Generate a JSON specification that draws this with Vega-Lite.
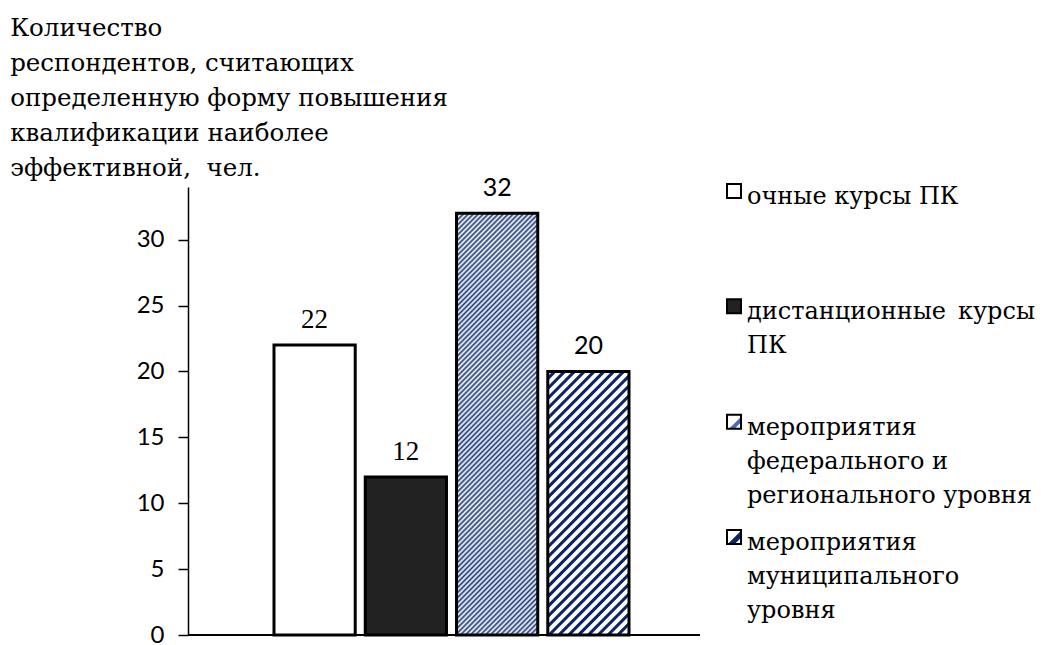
{
  "$schema": "https://vega.github.io/schema/vega-lite/v6.json",
  "background": "white",
  "padding": {"left": 10, "top": 15, "right": 0, "bottom": 0},
  "title": {
    "text": ["Количество", "респондентов, считающих", "определенную форму повышения", "квалификации наиболее", "эффективной,\u00a0 чел."],
    "anchor": "start",
    "frame": "bounds",
    "dx": -126,
    "font": "DejaVu Serif",
    "fontSize": 24.5,
    "fontWeight": "normal",
    "lineHeight": 35,
    "offset": -5,
    "color": "black"
  },
  "config": {"view": {"stroke": null}, "concat": {"spacing": 22}},
  "datasets": {
    "forms": [
      {"form": "очные курсы ПК", "label": "очные курсы ПК", "value": 22},
      {"form": "дистанционные курсы ПК", "label": "дистанционные\u2002курсы\nПК", "value": 12},
      {"form": "мероприятия федерального и регионального уровня", "label": "мероприятия\nфедерального и\nрегионального уровня", "value": 32},
      {"form": "мероприятия муниципального уровня", "label": "мероприятия\nмуниципального\nуровня", "value": 20}
    ]
  },
  "hconcat": [
    {
      "width": 512,
      "height": 448,
      "data": {"name": "forms"},
      "layer": [
        {
          "mark": {"type": "rule", "color": "black", "strokeWidth": 2},
          "encoding": {"y": {"datum": 0, "type": "quantitative"}}
        },
        {
          "mark": {"type": "bar", "stroke": "black", "strokeWidth": 3},
          "encoding": {
            "x": {"field": "form", "type": "nominal", "sort": null, "axis": null,
                  "scale": {"range": [86, 441], "paddingInner": 0.11, "paddingOuter": 0}},
            "y": {"field": "value", "type": "quantitative",
                  "scale": {"domain": [0, 34], "nice": false},
                  "axis": {"values": [0, 5, 10, 15, 20, 25, 30], "title": null, "grid": false,
                           "domainColor": "black", "domainWidth": 1.5, "tickColor": "black", "tickWidth": 1.5,
                           "tickSize": 10, "labelFont": "Lato", "labelFontSize": 24, "labelColor": "black",
                           "labelPadding": 14}},
            "fill": {
              "condition": [
                {"test": "datum.form === 'дистанционные курсы ПК'", "value": "#222222"},
                {"test": "datum.form === 'мероприятия федерального и регионального уровня'",
                 "value": {"gradient": "linear", "x1": 0, "y1": 0, "x2": 0.2239, "y2": 1.151, "stops": [
{"offset":0,"color":"#fff"},{"offset":0.005,"color":"#1d3a78"},{"offset":0.01,"color":"#fff"},{"offset":0.015,"color":"#1d3a78"},{"offset":0.02,"color":"#fff"},{"offset":0.025,"color":"#1d3a78"},{"offset":0.03,"color":"#fff"},{"offset":0.035,"color":"#1d3a78"},{"offset":0.04,"color":"#fff"},{"offset":0.045,"color":"#1d3a78"},
{"offset":0.05,"color":"#fff"},{"offset":0.055,"color":"#1d3a78"},{"offset":0.06,"color":"#fff"},{"offset":0.065,"color":"#1d3a78"},{"offset":0.07,"color":"#fff"},{"offset":0.075,"color":"#1d3a78"},{"offset":0.08,"color":"#fff"},{"offset":0.085,"color":"#1d3a78"},{"offset":0.09,"color":"#fff"},{"offset":0.095,"color":"#1d3a78"},
{"offset":0.1,"color":"#fff"},{"offset":0.105,"color":"#1d3a78"},{"offset":0.11,"color":"#fff"},{"offset":0.115,"color":"#1d3a78"},{"offset":0.12,"color":"#fff"},{"offset":0.125,"color":"#1d3a78"},{"offset":0.13,"color":"#fff"},{"offset":0.135,"color":"#1d3a78"},{"offset":0.14,"color":"#fff"},{"offset":0.145,"color":"#1d3a78"},
{"offset":0.15,"color":"#fff"},{"offset":0.155,"color":"#1d3a78"},{"offset":0.16,"color":"#fff"},{"offset":0.165,"color":"#1d3a78"},{"offset":0.17,"color":"#fff"},{"offset":0.175,"color":"#1d3a78"},{"offset":0.18,"color":"#fff"},{"offset":0.185,"color":"#1d3a78"},{"offset":0.19,"color":"#fff"},{"offset":0.195,"color":"#1d3a78"},
{"offset":0.2,"color":"#fff"},{"offset":0.205,"color":"#1d3a78"},{"offset":0.21,"color":"#fff"},{"offset":0.215,"color":"#1d3a78"},{"offset":0.22,"color":"#fff"},{"offset":0.225,"color":"#1d3a78"},{"offset":0.23,"color":"#fff"},{"offset":0.235,"color":"#1d3a78"},{"offset":0.24,"color":"#fff"},{"offset":0.245,"color":"#1d3a78"},
{"offset":0.25,"color":"#fff"},{"offset":0.255,"color":"#1d3a78"},{"offset":0.26,"color":"#fff"},{"offset":0.265,"color":"#1d3a78"},{"offset":0.27,"color":"#fff"},{"offset":0.275,"color":"#1d3a78"},{"offset":0.28,"color":"#fff"},{"offset":0.285,"color":"#1d3a78"},{"offset":0.29,"color":"#fff"},{"offset":0.295,"color":"#1d3a78"},
{"offset":0.3,"color":"#fff"},{"offset":0.305,"color":"#1d3a78"},{"offset":0.31,"color":"#fff"},{"offset":0.315,"color":"#1d3a78"},{"offset":0.32,"color":"#fff"},{"offset":0.325,"color":"#1d3a78"},{"offset":0.33,"color":"#fff"},{"offset":0.335,"color":"#1d3a78"},{"offset":0.34,"color":"#fff"},{"offset":0.345,"color":"#1d3a78"},
{"offset":0.35,"color":"#fff"},{"offset":0.355,"color":"#1d3a78"},{"offset":0.36,"color":"#fff"},{"offset":0.365,"color":"#1d3a78"},{"offset":0.37,"color":"#fff"},{"offset":0.375,"color":"#1d3a78"},{"offset":0.38,"color":"#fff"},{"offset":0.385,"color":"#1d3a78"},{"offset":0.39,"color":"#fff"},{"offset":0.395,"color":"#1d3a78"},
{"offset":0.4,"color":"#fff"},{"offset":0.405,"color":"#1d3a78"},{"offset":0.41,"color":"#fff"},{"offset":0.415,"color":"#1d3a78"},{"offset":0.42,"color":"#fff"},{"offset":0.425,"color":"#1d3a78"},{"offset":0.43,"color":"#fff"},{"offset":0.435,"color":"#1d3a78"},{"offset":0.44,"color":"#fff"},{"offset":0.445,"color":"#1d3a78"},
{"offset":0.45,"color":"#fff"},{"offset":0.455,"color":"#1d3a78"},{"offset":0.46,"color":"#fff"},{"offset":0.465,"color":"#1d3a78"},{"offset":0.47,"color":"#fff"},{"offset":0.475,"color":"#1d3a78"},{"offset":0.48,"color":"#fff"},{"offset":0.485,"color":"#1d3a78"},{"offset":0.49,"color":"#fff"},{"offset":0.495,"color":"#1d3a78"},
{"offset":0.5,"color":"#fff"},{"offset":0.505,"color":"#1d3a78"},{"offset":0.51,"color":"#fff"},{"offset":0.515,"color":"#1d3a78"},{"offset":0.52,"color":"#fff"},{"offset":0.525,"color":"#1d3a78"},{"offset":0.53,"color":"#fff"},{"offset":0.535,"color":"#1d3a78"},{"offset":0.54,"color":"#fff"},{"offset":0.545,"color":"#1d3a78"},
{"offset":0.55,"color":"#fff"},{"offset":0.555,"color":"#1d3a78"},{"offset":0.56,"color":"#fff"},{"offset":0.565,"color":"#1d3a78"},{"offset":0.57,"color":"#fff"},{"offset":0.575,"color":"#1d3a78"},{"offset":0.58,"color":"#fff"},{"offset":0.585,"color":"#1d3a78"},{"offset":0.59,"color":"#fff"},{"offset":0.595,"color":"#1d3a78"},
{"offset":0.6,"color":"#fff"},{"offset":0.605,"color":"#1d3a78"},{"offset":0.61,"color":"#fff"},{"offset":0.615,"color":"#1d3a78"},{"offset":0.62,"color":"#fff"},{"offset":0.625,"color":"#1d3a78"},{"offset":0.63,"color":"#fff"},{"offset":0.635,"color":"#1d3a78"},{"offset":0.64,"color":"#fff"},{"offset":0.645,"color":"#1d3a78"},
{"offset":0.65,"color":"#fff"},{"offset":0.655,"color":"#1d3a78"},{"offset":0.66,"color":"#fff"},{"offset":0.665,"color":"#1d3a78"},{"offset":0.67,"color":"#fff"},{"offset":0.675,"color":"#1d3a78"},{"offset":0.68,"color":"#fff"},{"offset":0.685,"color":"#1d3a78"},{"offset":0.69,"color":"#fff"},{"offset":0.695,"color":"#1d3a78"},
{"offset":0.7,"color":"#fff"},{"offset":0.705,"color":"#1d3a78"},{"offset":0.71,"color":"#fff"},{"offset":0.715,"color":"#1d3a78"},{"offset":0.72,"color":"#fff"},{"offset":0.725,"color":"#1d3a78"},{"offset":0.73,"color":"#fff"},{"offset":0.735,"color":"#1d3a78"},{"offset":0.74,"color":"#fff"},{"offset":0.745,"color":"#1d3a78"},
{"offset":0.75,"color":"#fff"},{"offset":0.755,"color":"#1d3a78"},{"offset":0.76,"color":"#fff"},{"offset":0.765,"color":"#1d3a78"},{"offset":0.77,"color":"#fff"},{"offset":0.775,"color":"#1d3a78"},{"offset":0.78,"color":"#fff"},{"offset":0.785,"color":"#1d3a78"},{"offset":0.79,"color":"#fff"},{"offset":0.795,"color":"#1d3a78"},
{"offset":0.8,"color":"#fff"},{"offset":0.805,"color":"#1d3a78"},{"offset":0.81,"color":"#fff"},{"offset":0.815,"color":"#1d3a78"},{"offset":0.82,"color":"#fff"},{"offset":0.825,"color":"#1d3a78"},{"offset":0.83,"color":"#fff"},{"offset":0.835,"color":"#1d3a78"},{"offset":0.84,"color":"#fff"},{"offset":0.845,"color":"#1d3a78"},
{"offset":0.85,"color":"#fff"},{"offset":0.855,"color":"#1d3a78"},{"offset":0.86,"color":"#fff"},{"offset":0.865,"color":"#1d3a78"},{"offset":0.87,"color":"#fff"},{"offset":0.875,"color":"#1d3a78"},{"offset":0.88,"color":"#fff"},{"offset":0.885,"color":"#1d3a78"},{"offset":0.89,"color":"#fff"},{"offset":0.895,"color":"#1d3a78"},
{"offset":0.9,"color":"#fff"},{"offset":0.905,"color":"#1d3a78"},{"offset":0.91,"color":"#fff"},{"offset":0.915,"color":"#1d3a78"},{"offset":0.92,"color":"#fff"},{"offset":0.925,"color":"#1d3a78"},{"offset":0.93,"color":"#fff"},{"offset":0.935,"color":"#1d3a78"},{"offset":0.94,"color":"#fff"},{"offset":0.945,"color":"#1d3a78"},
{"offset":0.95,"color":"#fff"},{"offset":0.955,"color":"#1d3a78"},{"offset":0.96,"color":"#fff"},{"offset":0.965,"color":"#1d3a78"},{"offset":0.97,"color":"#fff"},{"offset":0.975,"color":"#1d3a78"},{"offset":0.98,"color":"#fff"},{"offset":0.985,"color":"#1d3a78"},{"offset":0.99,"color":"#fff"},{"offset":0.995,"color":"#1d3a78"},
{"offset":1,"color":"#fff"}
                 ]}},
                {"test": "datum.form === 'мероприятия муниципального уровня'",
                 "value": {"gradient": "linear", "x1": 0, "y1": 0, "x2": 0.4267, "y2": 1.3718, "stops": [
{"offset":0,"color":"#fff"},{"offset":0.011,"color":"#fff"},{"offset":0.014,"color":"#0f2665"},{"offset":0.022,"color":"#0f2665"},
{"offset":0.025,"color":"#fff"},{"offset":0.036,"color":"#fff"},{"offset":0.039,"color":"#0f2665"},{"offset":0.047,"color":"#0f2665"},
{"offset":0.05,"color":"#fff"},{"offset":0.061,"color":"#fff"},{"offset":0.064,"color":"#0f2665"},{"offset":0.072,"color":"#0f2665"},
{"offset":0.075,"color":"#fff"},{"offset":0.086,"color":"#fff"},{"offset":0.089,"color":"#0f2665"},{"offset":0.097,"color":"#0f2665"},
{"offset":0.1,"color":"#fff"},{"offset":0.111,"color":"#fff"},{"offset":0.114,"color":"#0f2665"},{"offset":0.122,"color":"#0f2665"},
{"offset":0.125,"color":"#fff"},{"offset":0.136,"color":"#fff"},{"offset":0.139,"color":"#0f2665"},{"offset":0.147,"color":"#0f2665"},
{"offset":0.15,"color":"#fff"},{"offset":0.161,"color":"#fff"},{"offset":0.164,"color":"#0f2665"},{"offset":0.172,"color":"#0f2665"},
{"offset":0.175,"color":"#fff"},{"offset":0.186,"color":"#fff"},{"offset":0.189,"color":"#0f2665"},{"offset":0.197,"color":"#0f2665"},
{"offset":0.2,"color":"#fff"},{"offset":0.211,"color":"#fff"},{"offset":0.214,"color":"#0f2665"},{"offset":0.222,"color":"#0f2665"},
{"offset":0.225,"color":"#fff"},{"offset":0.236,"color":"#fff"},{"offset":0.239,"color":"#0f2665"},{"offset":0.247,"color":"#0f2665"},
{"offset":0.25,"color":"#fff"},{"offset":0.261,"color":"#fff"},{"offset":0.264,"color":"#0f2665"},{"offset":0.272,"color":"#0f2665"},
{"offset":0.275,"color":"#fff"},{"offset":0.286,"color":"#fff"},{"offset":0.289,"color":"#0f2665"},{"offset":0.297,"color":"#0f2665"},
{"offset":0.3,"color":"#fff"},{"offset":0.311,"color":"#fff"},{"offset":0.314,"color":"#0f2665"},{"offset":0.322,"color":"#0f2665"},
{"offset":0.325,"color":"#fff"},{"offset":0.336,"color":"#fff"},{"offset":0.339,"color":"#0f2665"},{"offset":0.347,"color":"#0f2665"},
{"offset":0.35,"color":"#fff"},{"offset":0.361,"color":"#fff"},{"offset":0.364,"color":"#0f2665"},{"offset":0.372,"color":"#0f2665"},
{"offset":0.375,"color":"#fff"},{"offset":0.386,"color":"#fff"},{"offset":0.389,"color":"#0f2665"},{"offset":0.397,"color":"#0f2665"},
{"offset":0.4,"color":"#fff"},{"offset":0.411,"color":"#fff"},{"offset":0.414,"color":"#0f2665"},{"offset":0.422,"color":"#0f2665"},
{"offset":0.425,"color":"#fff"},{"offset":0.436,"color":"#fff"},{"offset":0.439,"color":"#0f2665"},{"offset":0.447,"color":"#0f2665"},
{"offset":0.45,"color":"#fff"},{"offset":0.461,"color":"#fff"},{"offset":0.464,"color":"#0f2665"},{"offset":0.472,"color":"#0f2665"},
{"offset":0.475,"color":"#fff"},{"offset":0.486,"color":"#fff"},{"offset":0.489,"color":"#0f2665"},{"offset":0.497,"color":"#0f2665"},
{"offset":0.5,"color":"#fff"},{"offset":0.511,"color":"#fff"},{"offset":0.514,"color":"#0f2665"},{"offset":0.522,"color":"#0f2665"},
{"offset":0.525,"color":"#fff"},{"offset":0.536,"color":"#fff"},{"offset":0.539,"color":"#0f2665"},{"offset":0.547,"color":"#0f2665"},
{"offset":0.55,"color":"#fff"},{"offset":0.561,"color":"#fff"},{"offset":0.564,"color":"#0f2665"},{"offset":0.572,"color":"#0f2665"},
{"offset":0.575,"color":"#fff"},{"offset":0.586,"color":"#fff"},{"offset":0.589,"color":"#0f2665"},{"offset":0.597,"color":"#0f2665"},
{"offset":0.6,"color":"#fff"},{"offset":0.611,"color":"#fff"},{"offset":0.614,"color":"#0f2665"},{"offset":0.622,"color":"#0f2665"},
{"offset":0.625,"color":"#fff"},{"offset":0.636,"color":"#fff"},{"offset":0.639,"color":"#0f2665"},{"offset":0.647,"color":"#0f2665"},
{"offset":0.65,"color":"#fff"},{"offset":0.661,"color":"#fff"},{"offset":0.664,"color":"#0f2665"},{"offset":0.672,"color":"#0f2665"},
{"offset":0.675,"color":"#fff"},{"offset":0.686,"color":"#fff"},{"offset":0.689,"color":"#0f2665"},{"offset":0.697,"color":"#0f2665"},
{"offset":0.7,"color":"#fff"},{"offset":0.711,"color":"#fff"},{"offset":0.714,"color":"#0f2665"},{"offset":0.722,"color":"#0f2665"},
{"offset":0.725,"color":"#fff"},{"offset":0.736,"color":"#fff"},{"offset":0.739,"color":"#0f2665"},{"offset":0.747,"color":"#0f2665"},
{"offset":0.75,"color":"#fff"},{"offset":0.761,"color":"#fff"},{"offset":0.764,"color":"#0f2665"},{"offset":0.772,"color":"#0f2665"},
{"offset":0.775,"color":"#fff"},{"offset":0.786,"color":"#fff"},{"offset":0.789,"color":"#0f2665"},{"offset":0.797,"color":"#0f2665"},
{"offset":0.8,"color":"#fff"},{"offset":0.811,"color":"#fff"},{"offset":0.814,"color":"#0f2665"},{"offset":0.822,"color":"#0f2665"},
{"offset":0.825,"color":"#fff"},{"offset":0.836,"color":"#fff"},{"offset":0.839,"color":"#0f2665"},{"offset":0.847,"color":"#0f2665"},
{"offset":0.85,"color":"#fff"},{"offset":0.861,"color":"#fff"},{"offset":0.864,"color":"#0f2665"},{"offset":0.872,"color":"#0f2665"},
{"offset":0.875,"color":"#fff"},{"offset":0.886,"color":"#fff"},{"offset":0.889,"color":"#0f2665"},{"offset":0.897,"color":"#0f2665"},
{"offset":0.9,"color":"#fff"},{"offset":1,"color":"#fff"}
                 ]}}
              ],
              "value": "white"
            }
          }
        },
        {
          "transform": [{"filter": {"field": "form", "oneOf": ["очные курсы ПК", "дистанционные курсы ПК"]}}],
          "mark": {"type": "text", "baseline": "alphabetic", "dy": -17, "font": "Liberation Serif", "fontSize": 27, "color": "black"},
          "encoding": {
            "x": {"field": "form", "type": "nominal", "sort": null},
            "y": {"field": "value", "type": "quantitative"},
            "text": {"field": "value", "type": "quantitative"}
          }
        },
        {
          "transform": [{"filter": {"field": "form", "oneOf": ["мероприятия федерального и регионального уровня", "мероприятия муниципального уровня"]}}],
          "mark": {"type": "text", "baseline": "alphabetic", "dy": -17, "font": "Lato", "fontSize": 25, "color": "black"},
          "encoding": {
            "x": {"field": "form", "type": "nominal", "sort": null},
            "y": {"field": "value", "type": "quantitative"},
            "text": {"field": "value", "type": "quantitative"}
          }
        }
      ]
    },
    {
      "width": 14,
      "height": 350,
      "data": {"name": "forms"},
      "encoding": {
        "y": {"field": "form", "type": "nominal", "sort": null, "axis": null,
              "scale": {"type": "point", "range": [4, 350], "padding": 0}}
      },
      "layer": [
        {
          "mark": {"type": "point", "shape": "square", "size": 196, "filled": true, "stroke": "black", "strokeWidth": 2, "opacity": 1},
          "encoding": {
            "fill": {
              "condition": [
                {"test": "datum.form === 'дистанционные курсы ПК'", "value": "#222222"},
                {"test": "datum.form === 'мероприятия федерального и регионального уровня'",
                 "value": {"gradient": "linear", "x1": 0, "y1": 0, "x2": 1, "y2": 1, "stops": [
                   {"offset": 0, "color": "#fff"}, {"offset": 0.55, "color": "#fff"}, {"offset": 0.6, "color": "#4a6cb0"},
                   {"offset": 0.75, "color": "#4a6cb0"}, {"offset": 0.8, "color": "#fff"}, {"offset": 1, "color": "#fff"}]}},
                {"test": "datum.form === 'мероприятия муниципального уровня'",
                 "value": {"gradient": "linear", "x1": 0, "y1": 0, "x2": 1, "y2": 1, "stops": [
                   {"offset": 0, "color": "#fff"}, {"offset": 0.5, "color": "#fff"}, {"offset": 0.55, "color": "#0f2665"},
                   {"offset": 0.75, "color": "#0f2665"}, {"offset": 0.8, "color": "#fff"}, {"offset": 1, "color": "#fff"}]}}
              ],
              "value": "white"
            }
          }
        },
        {
          "mark": {"type": "text", "align": "left", "baseline": "alphabetic", "dx": 13, "dy": 13,
                   "font": "DejaVu Serif", "fontSize": 24, "lineHeight": 34, "lineBreak": "\n", "color": "black"},
          "encoding": {"text": {"field": "label", "type": "nominal"}}
        }
      ]
    }
  ]
}
